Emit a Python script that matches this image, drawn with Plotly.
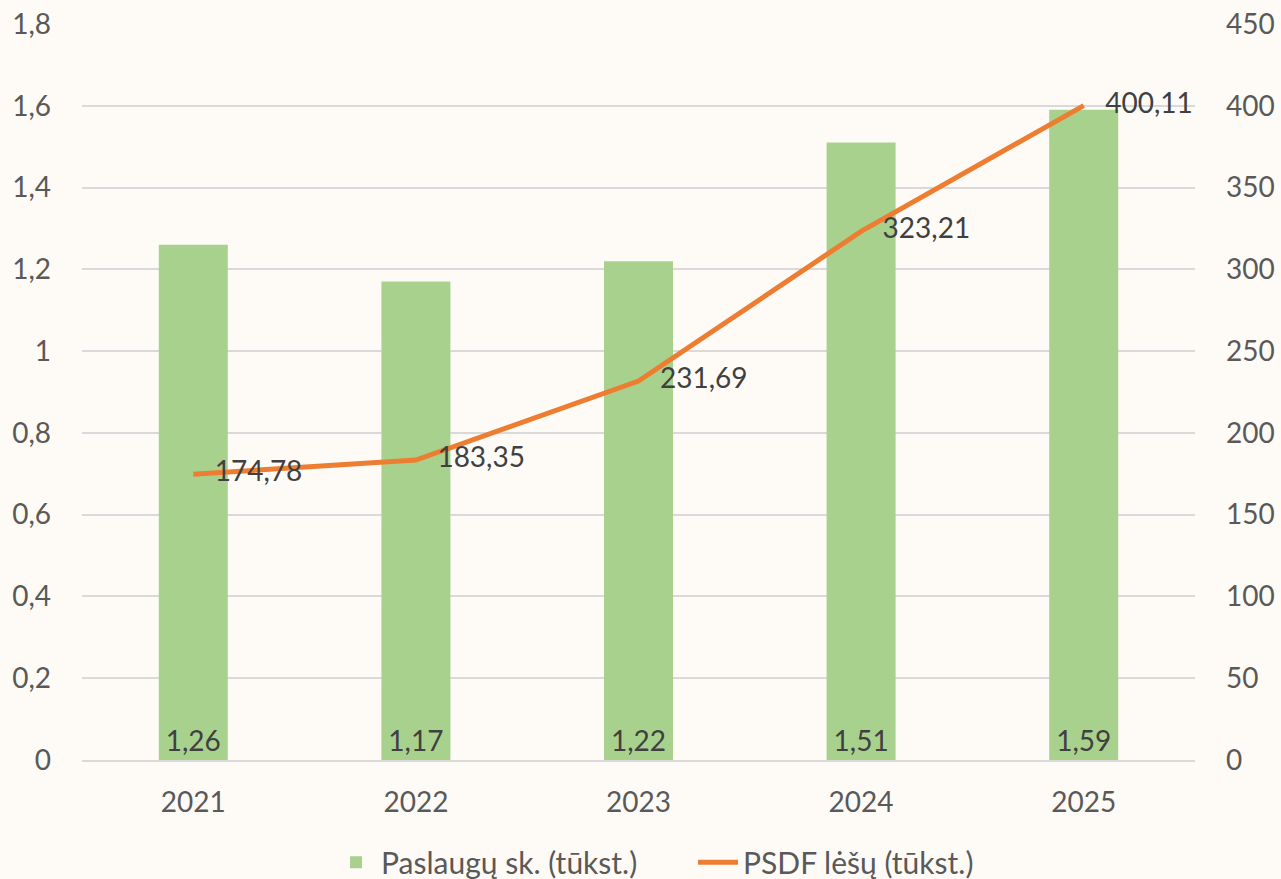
import plotly.graph_objects as go

years = ["2021", "2022", "2023", "2024", "2025"]
paslaugos = [1.26, 1.17, 1.22, 1.51, 1.59]
psdf = [174.78, 183.35, 231.69, 323.21, 400.11]

def lt(v):
    return f"{v:.2f}".replace(".", ",")

FONT = "Lato"
TXT = "#595959"
LBL = "#404040"
BG = "#FEFBF6"

fig = go.Figure()
fig.add_trace(go.Bar(
    x=years, y=paslaugos, name="Paslaugų sk. (tūkst.)",
    marker=dict(color="#A9D18E", line=dict(width=0)),
    text=[lt(v) for v in paslaugos], textposition="inside",
    insidetextanchor="start", textangle=0,
    textfont=dict(family=FONT, size=28, color=LBL),
    cliponaxis=False,
))
fig.add_trace(go.Scatter(
    x=years, y=psdf, name="PSDF lėšų (tūkst.)", yaxis="y2",
    mode="lines+text", line=dict(color="#ED7D31", width=5),
    text=["\u00a0\u00a0\u00a0" + lt(v) for v in psdf], textposition="middle right",
    textfont=dict(family=FONT, size=28, color=LBL),
    cliponaxis=False,
))

fig.update_layout(
    width=1281, height=879,
    paper_bgcolor=BG, plot_bgcolor=BG,
    margin=dict(l=82, r=86, t=24, b=119, autoexpand=False),
    separators=",.",
    bargap=0.69,
    font=dict(family=FONT, size=28, color=TXT),
    xaxis=dict(showgrid=False, showline=True, linecolor="#D9D9D9", linewidth=2,
               ticks="", tickfont=dict(size=28, color=TXT), ticklabelstandoff=16,
               automargin=False),
    yaxis=dict(range=[0, 1.8], dtick=0.2, showgrid=True, gridcolor="#D9D9D9",
               gridwidth=2, zeroline=False, showline=False, ticks="",
               tickfont=dict(size=28, color=TXT), ticklabelstandoff=30,
               automargin=False),
    yaxis2=dict(range=[0, 450], dtick=50, overlaying="y", side="right",
                showgrid=False, zeroline=False, showline=False, ticks="",
                tickfont=dict(size=28, color=TXT), ticklabelstandoff=30,
                automargin=False),
    legend=dict(orientation="h", x=0.549, xanchor="center",
                yref="container", y=0.019, yanchor="middle",
                entrywidth=307, itemwidth=40,
                font=dict(size=30, color=TXT), bgcolor="rgba(0,0,0,0)"),
    showlegend=True,
)

fig.write_html("out.html", config={"displayModeBar": False},
               post_script="document.body.style.margin='0';document.body.style.padding='0';document.body.style.background='#FEFBF6';")
